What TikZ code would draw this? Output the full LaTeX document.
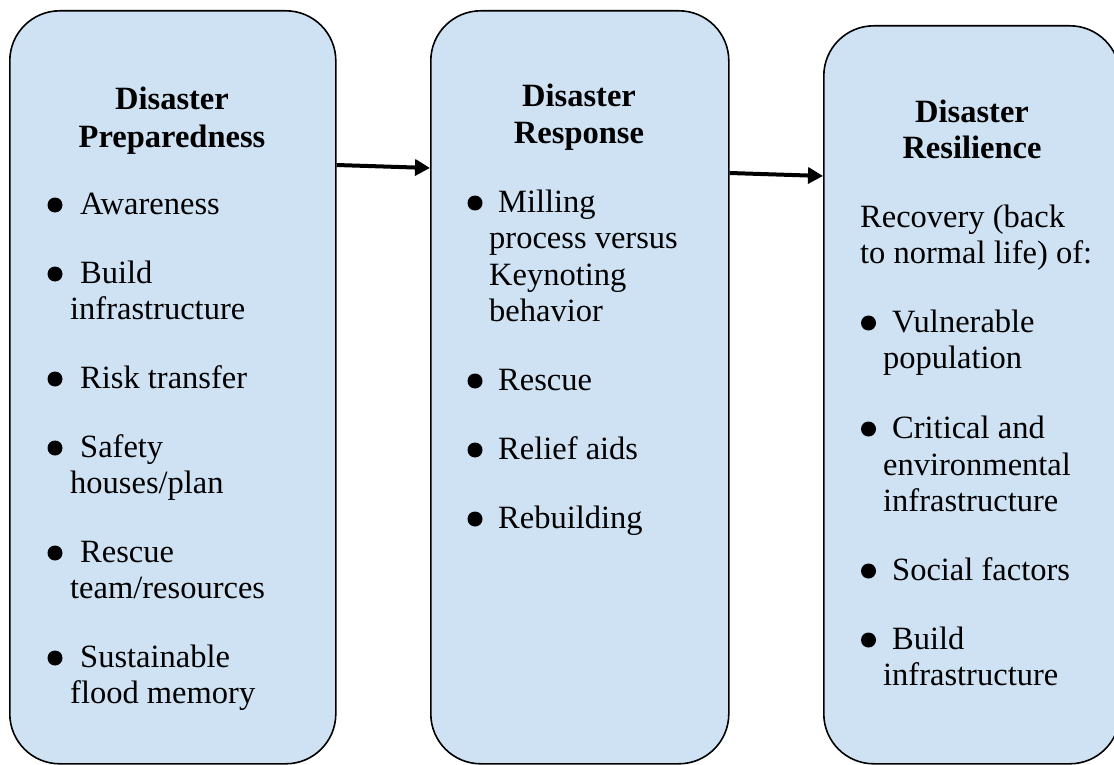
\documentclass[tikz,border=0pt]{standalone}
\usepackage{fontspec}
\setmainfont{Liberation Serif}
\usetikzlibrary{arrows.meta}
\definecolor{boxfill}{RGB}{207,226,243}
\begin{document}
\begin{tikzpicture}[x=1pt,y=-1pt,
  stagebox/.style={draw=black, line width=1.6pt, fill=boxfill, rounded corners=50pt, anchor=north west, inner sep=0pt},
  ttl/.style={anchor=base, inner sep=0pt, font=\fontsize{32.5}{36.5}\selectfont\bfseries},
  txt/.style={anchor=base west, inner sep=0pt, font=\fontsize{32.5}{36.5}\selectfont},
  bul/.style={fill=black, draw=none, circle, inner sep=0pt, minimum size=15pt},
  flow/.style={line width=4pt, -{Triangle[length=15pt,width=16pt]}}]
\useasboundingbox (0,0) rectangle (1114,765);
\clip (0,0) rectangle (1114,765);

% boxes
\node[stagebox, minimum width=326pt, minimum height=753pt] (b1) at (9,10) {};
\node[stagebox, minimum width=298pt, minimum height=753pt] (b2) at (430,10) {};
\node[stagebox, minimum width=296pt, minimum height=738pt] (b3) at (823,25) {};

% arrows
\draw[flow] (b1.east |- 0,165) -- (b2.west |- 0,168);
\draw[flow] (b2.east |- 0,173) -- (b3.west |- 0,176);

% box 1
\node[ttl] (t1a) at (172,110) {Disaster};
\node[ttl] (t1b) at (172,148) {Preparedness};
\node[bul] (p1d1) at (55,205) {};
\node[txt] (p1a) at (80,214) {Awareness};
\node[bul] (p1d2) at (55,274) {};
\node[txt] (p1b1) at (80,283) {Build};
\node[txt] (p1b2) at (70,319) {infrastructure};
\node[bul] (p1d3) at (55,379) {};
\node[txt] (p1c) at (80,388) {Risk transfer};
\node[bul] (p1d4) at (55,448) {};
\node[txt] (p1e1) at (80,457) {Safety};
\node[txt] (p1e2) at (70,493) {houses/plan};
\node[bul] (p1d5) at (55,553) {};
\node[txt] (p1f1) at (80,562) {Rescue};
\node[txt] (p1f2) at (70,598) {team/resources};
\node[bul] (p1d6) at (55,658) {};
\node[txt] (p1g1) at (80,667) {Sustainable};
\node[txt] (p1g2) at (70,703) {flood memory};

% box 2
\node[ttl] (t2a) at (579,107) {Disaster};
\node[ttl] (t2b) at (579,143) {Response};
\node[bul] (p2d1) at (475,203) {};
\node[txt] (p2a1) at (498,212) {Milling};
\node[txt] (p2a2) at (489,248) {process versus};
\node[txt] (p2a3) at (489,285) {Keynoting};
\node[txt] (p2a4) at (489,321) {behavior};
\node[bul] (p2d2) at (475,381) {};
\node[txt] (p2b) at (498,390) {Rescue};
\node[bul] (p2d3) at (475,450) {};
\node[txt] (p2c) at (498,459) {Relief aids};
\node[bul] (p2d4) at (475,519) {};
\node[txt] (p2e) at (498,528) {Rebuilding};

% box 3
\node[ttl] (t3a) at (972,123) {Disaster};
\node[ttl] (t3b) at (972,159) {Resilience};
\node[txt] (r0a) at (860,227) {Recovery (back};
\node[txt] (r0b) at (860,263) {to normal life) of:};
\node[bul] (p3d1) at (868.5,323) {};
\node[txt] (p3a1) at (892,332) {Vulnerable};
\node[txt] (p3a2) at (883,368) {population};
\node[bul] (p3d2) at (868.5,429) {};
\node[txt] (p3b1) at (892,438) {Critical and};
\node[txt] (p3b2) at (883,475) {environmental};
\node[txt] (p3b3) at (883,511) {infrastructure};
\node[bul] (p3d3) at (868.5,571) {};
\node[txt] (p3c) at (892,580) {Social factors};
\node[bul] (p3d4) at (868.5,640) {};
\node[txt] (p3e1) at (892,649) {Build};
\node[txt] (p3e2) at (883,685) {infrastructure};
\end{tikzpicture}
\end{document}
